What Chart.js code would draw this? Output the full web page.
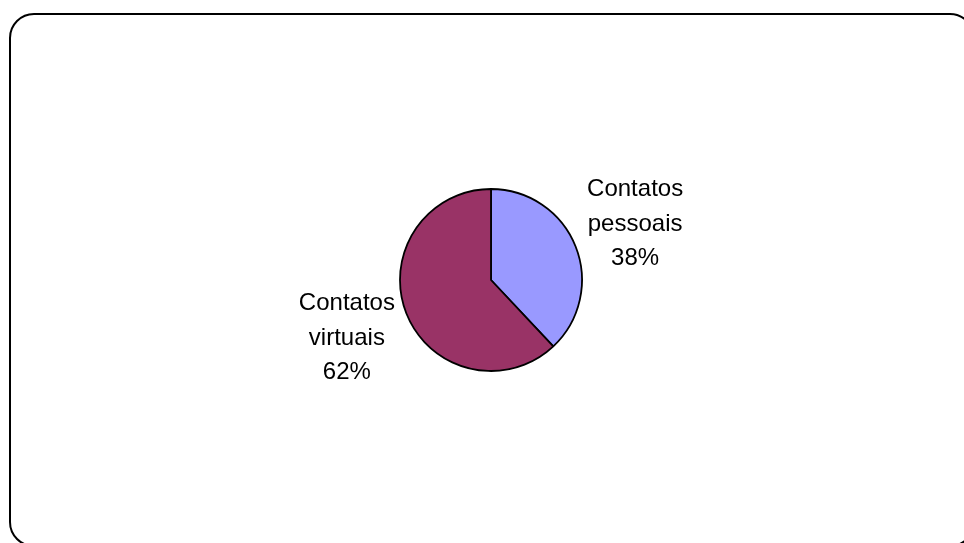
<!DOCTYPE html>
<html>
<head>
<meta charset="utf-8">
<script src="https://cdn.jsdelivr.net/npm/chart.js@4/dist/chart.umd.min.js"></script>
<style>
  html, body { margin: 0; padding: 0; background: #ffffff; }
  #wrap { width: 964px; height: 543px; position: relative; }
</style>
</head>
<body>
<div id="wrap"><canvas id="c" width="964" height="543"></canvas></div>
<script>
const categories = ["Contatos pessoais", "Contatos virtuais"];
const labelLines = [["Contatos", "pessoais"], ["Contatos", "virtuais"]];
const values = [38, 62];
const colors = ["#9999FF", "#993366"];

const frame = {
  id: 'frame',
  beforeDraw(chart) {
    const ctx = chart.ctx;
    ctx.save();
    ctx.fillStyle = '#ffffff';
    ctx.fillRect(0, 0, chart.width, chart.height);
    const x = 10, y = 14, w = 964, h = 532, r = 24;
    ctx.beginPath();
    ctx.moveTo(x + r, y);
    ctx.lineTo(x + w - r, y);
    ctx.arcTo(x + w, y, x + w, y + r, r);
    ctx.lineTo(x + w, y + h - r);
    ctx.arcTo(x + w, y + h, x + w - r, y + h, r);
    ctx.lineTo(x + r, y + h);
    ctx.arcTo(x, y + h, x, y + h - r, r);
    ctx.lineTo(x, y + r);
    ctx.arcTo(x, y, x + r, y, r);
    ctx.closePath();
    ctx.lineWidth = 2;
    ctx.strokeStyle = '#000000';
    ctx.stroke();
    ctx.restore();
  }
};

const outLabels = {
  id: 'outLabels',
  afterDatasetsDraw(chart) {
    const ctx = chart.ctx;
    const meta = chart.getDatasetMeta(0);
    const total = values.reduce((a, b) => a + b, 0);
    ctx.save();
    ctx.font = '24px "Liberation Sans", Arial, sans-serif';
    ctx.fillStyle = '#000000';
    ctx.textAlign = 'center';
    ctx.textBaseline = 'middle';
    meta.data.forEach((arc, i) => {
      const p = arc.getProps(['x', 'y', 'startAngle', 'endAngle', 'outerRadius'], true);
      const mid = (p.startAngle + p.endAngle) / 2;
      const d = p.outerRadius + 64;
      const cx = p.x + Math.cos(mid) * d;
      const cy = p.y + Math.sin(mid) * d + 1;
      const lines = labelLines[i].concat([Math.round(values[i] / total * 100) + '%']);
      const lh = 34.5;
      lines.forEach((t, k) => {
        ctx.fillText(t, cx, cy + (k - (lines.length - 1) / 2) * lh);
      });
    });
    ctx.restore();
  }
};

new Chart(document.getElementById('c'), {
  type: 'pie',
  data: {
    labels: categories,
    datasets: [{
      data: values,
      backgroundColor: colors,
      borderColor: '#000000',
      borderWidth: 1.8,
      radius: 91
    }]
  },
  options: {
    responsive: false,
    animation: false,
    layout: { padding: { left: 18, right: 0, top: 17, bottom: 0 } },
    plugins: {
      legend: { display: false },
      tooltip: { enabled: false }
    }
  },
  plugins: [frame, outLabels]
});
</script>
</body>
</html>
